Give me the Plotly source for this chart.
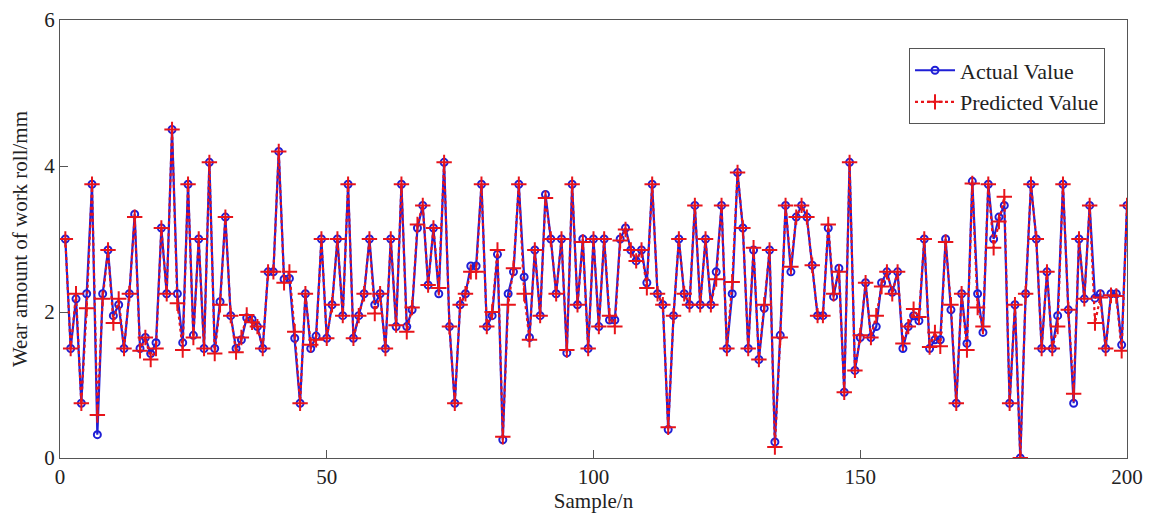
import plotly.graph_objects as go

samples = list(range(1, 201))

actual = [
    3.0, 1.5, 2.18, 0.75, 2.25, 3.75, 0.32, 2.25, 2.85, 1.95,
    2.10, 1.5, 2.25, 3.34, 1.5, 1.65, 1.43, 1.58, 3.15, 2.25,
    4.5, 2.25, 1.58, 3.75, 1.68, 3.0, 1.5, 4.05, 1.5, 2.14,
    3.30, 1.95, 1.5, 1.62, 1.92, 1.90, 1.80, 1.5, 2.55, 2.55,
    4.2, 2.45, 2.46, 1.64, 0.75, 2.25, 1.5, 1.67, 3.0, 1.64,
    2.10, 3.0, 1.95, 3.75, 1.64, 1.95, 2.25, 3.0, 2.10, 2.25,
    1.5, 3.0, 1.80, 3.75, 1.80, 2.03, 3.15, 3.46, 2.37, 3.15,
    2.25, 4.05, 1.80, 0.75, 2.10, 2.25, 2.63, 2.63, 3.75, 1.80,
    1.95, 2.79, 0.25, 2.25, 2.55, 3.75, 2.48, 1.65, 2.85, 1.95,
    3.61, 3.0, 2.25, 3.0, 1.44, 3.75, 2.10, 3.0, 1.5, 3.0,
    1.80, 3.0, 1.89, 1.89, 3.0, 3.15, 2.85, 2.70, 2.85, 2.40,
    3.75, 2.25, 2.10, 0.39, 1.95, 3.0, 2.25, 2.10, 3.46, 2.10,
    3.0, 2.10, 2.55, 3.46, 1.5, 2.25, 3.91, 3.15, 1.5, 2.85,
    1.35, 2.05, 2.85, 0.22, 1.68, 3.46, 2.55, 3.30, 3.46, 3.30,
    2.64, 1.95, 1.95, 3.15, 2.21, 2.60, 0.90, 4.05, 1.20, 1.65,
    2.40, 1.65, 1.80, 2.40, 2.55, 2.27, 2.55, 1.5, 1.80, 1.95,
    1.88, 3.0, 1.5, 1.62, 1.62, 3.0, 2.03, 0.75, 2.25, 1.57,
    3.79, 2.25, 1.72, 3.75, 3.0, 3.30, 3.46, 0.75, 2.10, 0.0,
    2.25, 3.75, 3.0, 1.5, 2.55, 1.5, 1.95, 3.75, 2.03, 0.75,
    3.0, 2.18, 3.46, 2.19, 2.25, 1.5, 2.25, 2.25, 1.55, 3.46,
]

predicted = [
    3.0, 1.5, 2.25, 0.75, 2.05, 3.75, 0.59, 2.18, 2.85, 1.85,
    2.18, 1.5, 2.25, 3.30, 1.47, 1.65, 1.35, 1.5, 3.15, 2.25,
    4.5, 2.12, 1.48, 3.75, 1.65, 3.0, 1.5, 4.05, 1.43, 2.10,
    3.30, 1.95, 1.45, 1.65, 1.96, 1.86, 1.80, 1.5, 2.55, 2.55,
    4.2, 2.40, 2.55, 1.73, 0.75, 2.25, 1.55, 1.62, 3.0, 1.64,
    2.10, 3.0, 1.95, 3.75, 1.64, 1.95, 2.25, 3.0, 1.98, 2.25,
    1.5, 3.0, 1.82, 3.75, 1.73, 2.06, 3.20, 3.46, 2.37, 3.15,
    2.33, 4.05, 1.80, 0.75, 2.10, 2.25, 2.55, 2.55, 3.75, 1.80,
    2.0, 2.85, 0.29, 2.10, 2.60, 3.75, 2.25, 1.62, 2.85, 1.95,
    3.56, 3.0, 2.25, 3.0, 1.48, 3.75, 2.10, 2.96, 1.5, 3.0,
    1.80, 3.0, 1.95, 1.80, 2.98, 3.13, 2.85, 2.70, 2.85, 2.33,
    3.75, 2.25, 2.10, 0.42, 1.95, 3.0, 2.25, 2.10, 3.46, 2.10,
    3.0, 2.10, 2.45, 3.46, 1.5, 2.41, 3.91, 3.15, 1.5, 2.88,
    1.35, 2.10, 2.85, 0.15, 1.65, 3.46, 2.62, 3.30, 3.46, 3.30,
    2.64, 1.95, 1.95, 3.20, 2.25, 2.55, 0.90, 4.05, 1.20, 1.68,
    2.40, 1.65, 1.95, 2.35, 2.55, 2.25, 2.55, 1.57, 1.80, 2.04,
    1.93, 3.0, 1.52, 1.72, 1.53, 2.96, 2.10, 0.75, 2.25, 1.48,
    3.76, 2.06, 1.80, 3.75, 2.88, 3.24, 3.58, 0.75, 2.10, 0.0,
    2.25, 3.75, 3.0, 1.5, 2.55, 1.5, 1.80, 3.75, 2.03, 0.88,
    3.0, 2.18, 3.46, 1.85, 2.20, 1.5, 2.23, 2.22, 1.47, 3.46,
]

x_ticks = [0, 50, 100, 150, 200]
y_ticks = [0, 2, 4, 6]

FONT = "Liberation Serif, Times New Roman, serif"

fig = go.Figure()
fig.add_trace(go.Scatter(
    x=samples, y=actual, name="Actual Value", mode="lines+markers",
    line=dict(color="#1f1fd6", width=2.2),
    marker=dict(symbol="circle-open", size=7, color="#1f1fd6", line=dict(width=2)),
))
fig.add_trace(go.Scatter(
    x=samples, y=predicted, name="Predicted Value", mode="lines+markers",
    line=dict(color="#e8141a", width=2.2, dash="dot"),
    marker=dict(symbol="cross-thin-open", size=11, color="#e8141a", line=dict(width=2, color="#e8141a")),
))

axis_common = dict(
    showline=True, mirror=True, linecolor="#555555", linewidth=1,
    ticks="inside", ticklen=8, tickcolor="#555555",
    showgrid=False, zeroline=False, automargin=False,
    ticklabeloverflow="allow",
    tickfont=dict(family=FONT, size=21, color="#222222"),
)

fig.update_layout(
    width=1147, height=508,
    margin=dict(l=52, r=28, t=12, b=58),
    paper_bgcolor="white", plot_bgcolor="white",
    font=dict(family=FONT, color="#222222"),
    xaxis=dict(range=[0, 200], tickvals=x_ticks,
               title=dict(text="Sample/n", font=dict(family=FONT, size=21), standoff=2),
               **axis_common),
    yaxis=dict(range=[0, 6], tickvals=y_ticks,
               title=dict(text="Wear amount of work roll/mm", font=dict(family=FONT, size=21)),
               **axis_common),
    legend=dict(
        x=0.7957, y=0.935, xanchor="left", yanchor="top",
        bgcolor="white", bordercolor="#555555", borderwidth=1,
        font=dict(family=FONT, size=22, color="#222222"),
        itemwidth=40, tracegroupgap=0,
    ),
    showlegend=True,
)

fig.write_html("out.html")
